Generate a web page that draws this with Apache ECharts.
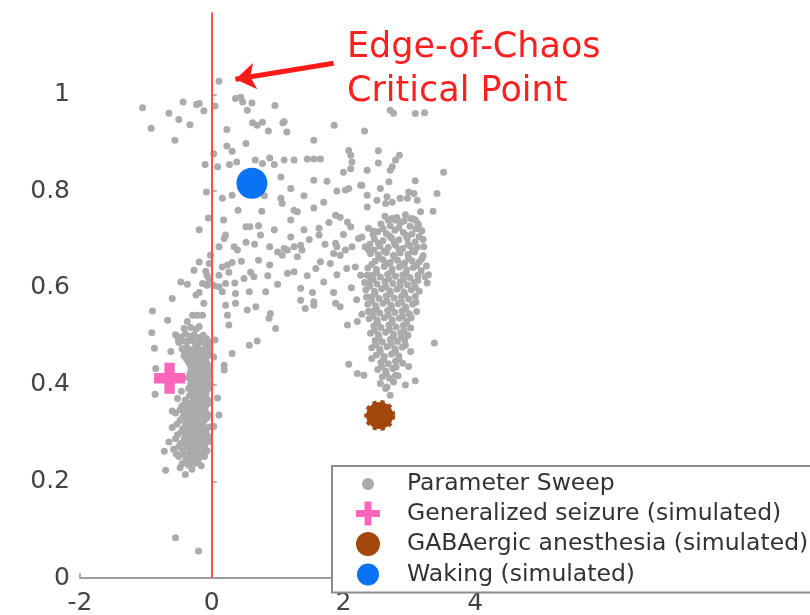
<!DOCTYPE html>
<html>
<head>
<meta charset="utf-8">
<script src="https://cdn.jsdelivr.net/npm/echarts@6/dist/echarts.min.js"></script>
<style>
  html, body { margin: 0; padding: 0; background: #ffffff; }
  #chart { width: 810px; height: 615px; }
</style>
</head>
<body>
<div id="chart"></div>
<script>
// Axis ticks
const xTicks = [-2, 0, 2, 4];
const yTicks = [0, 0.2, 0.4, 0.6, 0.8, 1];

// Parameter sweep: sparse points in the upper region (y > 0.8)
const sweepUpper = [
  [0.11,1.027],[-1.05,0.972],[-0.435,0.984],[-0.23,0.979],[-0.19,0.981],[-0.12,0.966],[-0.65,0.961],
  [-0.50,0.948],[-0.33,0.937],[-0.92,0.930],[-0.56,0.905],[0.05,0.976],[0.36,0.991],[0.44,0.994],
  [0.47,0.984],[0.61,0.982],[0.54,0.967],[0.96,0.977],[0.62,0.941],[0.69,0.936],[0.77,0.942],
  [0.86,0.924],[1.08,0.941],[0.23,0.927],[0.52,0.898],[0.23,0.893],[0.31,0.882],[0.03,0.877],
  [-0.10,0.855],[0.09,0.850],[0.27,0.855],[0.38,0.860],[0.66,0.864],[0.77,0.857],[0.88,0.868],
  [1.05,0.829],[2.71,0.967],[2.76,0.961],[3.09,0.960],[3.23,0.962],[1.10,0.943],[1.14,0.922],
  [1.86,0.936],[2.32,0.924],[1.55,0.905],[2.08,0.884],[2.11,0.874],[2.13,0.860],[2.11,0.846],
  [2.00,0.839],[2.53,0.883],[2.85,0.874],[2.79,0.864],[2.74,0.850],[2.71,0.843],[2.53,0.858],
  [1.10,0.864],[1.25,0.864],[1.45,0.866],[1.55,0.866],[1.65,0.866],[2.36,0.843],[3.52,0.839],
  [1.55,0.822],[2.69,0.819],[2.26,0.812],[3.09,0.821],[0.95,0.855],[1.75,0.820]
];

// Parameter sweep: bridge between the two clusters (0.57 < y < 0.81)
const sweepMiddle = [
  [-0.08,0.798],[0.16,0.785],[0.31,0.791],[0.76,0.758],[1.05,0.785],[1.07,0.774],[-0.05,0.744],
  [0.18,0.740],[-0.19,0.720],[0.52,0.726],[0.58,0.726],[0.71,0.728],[0.21,0.709],[0.19,0.702],
  [0.74,0.709],[0.52,0.694],[0.11,0.685],[0.34,0.685],[0.39,0.678],[0.88,0.685],[1.00,0.674],
  [1.07,0.667],[-0.02,0.667],[-0.19,0.653],[-0.04,0.650],[0.16,0.643],[0.24,0.647],[0.31,0.652],
  [0.71,0.657],[0.88,0.647],[-0.27,0.636],[-0.09,0.634],[-0.07,0.626],[-0.04,0.616],[0.11,0.626],
  [0.26,0.632],[0.59,0.632],[0.64,0.623],[0.49,0.619],[-0.47,0.612],[-0.37,0.607],[-0.14,0.609],
  [-0.07,0.605],[0.03,0.605],[0.11,0.602],[0.21,0.609],[0.16,0.592],[1.00,0.607],[-0.60,0.578],
  [-0.24,0.585],[-0.19,0.590],[0.36,0.588],[0.57,0.592],[0.82,0.592],
  [1.20,0.805],[2.03,0.802],[2.08,0.805],[2.28,0.812],[2.56,0.805],[2.36,0.791],[2.51,0.781],
  [2.66,0.788],[2.64,0.774],[2.74,0.777],[2.86,0.785],[2.99,0.798],[3.07,0.795],[3.12,0.781],
  [2.97,0.785],[3.42,0.795],[1.70,0.777],[1.25,0.760],[1.30,0.757],[1.55,0.765],[2.36,0.767],
  [1.88,0.750],[1.95,0.746],[2.06,0.736],[2.11,0.726],[2.74,0.743],[2.79,0.740],[2.86,0.736],
  [3.02,0.743],[3.09,0.740],[3.17,0.757],[3.14,0.729],[3.36,0.758],[1.63,0.723],[1.63,0.709],
  [2.38,0.723],[2.46,0.717],[1.20,0.705],[2.23,0.702],[2.28,0.705],[1.10,0.681],[1.15,0.678],
  [1.25,0.685],[1.35,0.688],[1.37,0.678],[1.88,0.692],[1.90,0.685],[1.85,0.671],[1.95,0.667],
  [2.03,0.678],[2.13,0.685],[2.33,0.685],[2.38,0.678],[1.30,0.664],[1.65,0.654],[2.18,0.643],
  [1.15,0.630],[1.25,0.633],[1.90,0.627],[2.26,0.626],[1.70,0.612],[2.41,0.616],[1.35,0.599],
  [1.53,0.590],[3.29,0.627],[1.35,0.574],[1.55,0.571],
  [1.40,0.720],[1.48,0.700],[1.78,0.735],[1.72,0.690],[2.00,0.710],[1.58,0.640],[1.80,0.650],
  [2.05,0.640],[1.45,0.625],[2.12,0.600],[1.85,0.590],[2.20,0.575],[0.95,0.720],[0.85,0.625],
  [0.45,0.655],[0.35,0.610],[0.65,0.690],[1.20,0.740],[1.40,0.790],[1.90,0.800],[0.40,0.760],
  [0.80,0.790]
];

// Parameter sweep: sparse points in the lower region (y < 0.57)
const sweepLower = [
  [1.42,0.557],[1.55,0.564],[1.88,0.568],[1.95,0.561],[2.06,0.523],[2.21,0.530],[3.38,0.486],
  [2.08,0.442],[2.21,0.423],[2.31,0.419],[2.43,0.454],[2.56,0.402],[2.64,0.392],[2.71,0.378],
  [2.79,0.419],[2.94,0.399],[3.09,0.408],[2.99,0.437],[3.02,0.468],[2.28,0.545],
  [-0.90,0.552],[-0.67,0.533],[-0.91,0.507],[-0.87,0.475],[-0.85,0.433],[-0.86,0.380],
  [-0.29,0.543],[-0.22,0.543],[-0.14,0.543],[-0.37,0.530],[-0.42,0.516],[-0.32,0.518],
  [-0.24,0.514],[-0.19,0.520],[-0.12,0.568],[0.21,0.564],[0.36,0.568],[0.54,0.554],[0.67,0.561],
  [0.24,0.543],[0.26,0.523],[0.89,0.547],[0.87,0.537],[0.97,0.516],[0.05,0.492],[0.31,0.464],
  [0.57,0.481],[0.69,0.490],[0.19,0.440],[0.19,0.430],[0.03,0.457],[0.09,0.372],[0.11,0.337],
  [0.03,0.313],[-0.70,0.223],[-0.40,0.214],[-0.55,0.083],[-0.20,0.056]
];

// Parameter sweep: dense cluster on the left (near the critical line)
const sweepLeftCluster = [
  [-0.55,0.503],[-0.47,0.498],[-0.40,0.505],[-0.33,0.499],[-0.27,0.503],[-0.20,0.497],[-0.13,0.502],[-0.08,0.495],
  [-0.50,0.487],[-0.36,0.490],[-0.25,0.485],[-0.17,0.489],[-0.10,0.484],[-0.04,0.488],
  [-0.45,0.474],[-0.38,0.477],[-0.30,0.472],[-0.22,0.476],[-0.15,0.471],[-0.09,0.475],
  [-0.42,0.459],[-0.33,0.462],[-0.26,0.457],[-0.19,0.461],[-0.12,0.456],[-0.06,0.460],
  [-0.35,0.446],[-0.28,0.443],[-0.21,0.447],[-0.14,0.442],[-0.08,0.445],
  [-0.31,0.431],[-0.24,0.428],[-0.17,0.432],[-0.11,0.427],[-0.05,0.430],
  [-0.36,0.414],[-0.27,0.417],[-0.20,0.412],[-0.13,0.416],[-0.07,0.411],
  [-0.32,0.401],[-0.25,0.397],[-0.18,0.402],[-0.10,0.398],[-0.04,0.401],
  [-0.46,0.386],[-0.30,0.383],[-0.22,0.387],[-0.15,0.382],[-0.08,0.386],
  [-0.52,0.371],[-0.40,0.368],[-0.28,0.372],[-0.20,0.367],[-0.12,0.371],[-0.06,0.368],
  [-0.45,0.356],[-0.35,0.353],[-0.26,0.357],[-0.17,0.352],[-0.09,0.356],
  [-0.55,0.341],[-0.42,0.338],[-0.32,0.342],[-0.23,0.337],[-0.14,0.341],[-0.06,0.338],
  [-0.48,0.326],[-0.38,0.323],[-0.29,0.327],[-0.20,0.322],[-0.11,0.326],
  [-0.60,0.311],[-0.44,0.308],[-0.35,0.312],[-0.26,0.307],[-0.17,0.311],[-0.09,0.308],[-0.03,0.312],
  [-0.52,0.296],[-0.40,0.293],[-0.31,0.297],[-0.22,0.292],[-0.13,0.296],[-0.06,0.293],
  [-0.65,0.281],[-0.47,0.278],[-0.37,0.282],[-0.28,0.277],[-0.19,0.281],[-0.10,0.278],[-0.04,0.282],
  [-0.58,0.266],[-0.44,0.263],[-0.33,0.267],[-0.24,0.262],[-0.15,0.266],[-0.07,0.263],
  [-0.50,0.251],[-0.39,0.248],[-0.29,0.252],[-0.20,0.247],[-0.11,0.251],
  [-0.45,0.236],[-0.35,0.233],[-0.25,0.237],[-0.16,0.232],
  [-0.72,0.262],[-0.60,0.345],[-0.62,0.468],
  [-0.51,0.495],[-0.43,0.490],[-0.30,0.491],[-0.21,0.482],[-0.07,0.479],[-0.41,0.467],[-0.34,0.469],
  [-0.26,0.466],[-0.18,0.468],[-0.12,0.465],[-0.03,0.470],[-0.38,0.452],[-0.30,0.451],[-0.23,0.454],
  [-0.16,0.451],[-0.09,0.453],[-0.32,0.437],[-0.26,0.436],[-0.19,0.439],[-0.13,0.436],[-0.06,0.439],
  [-0.33,0.423],[-0.23,0.421],[-0.16,0.424],[-0.09,0.420],[-0.03,0.417],[-0.30,0.408],[-0.22,0.406],
  [-0.15,0.409],[-0.08,0.405],[-0.35,0.392],[-0.27,0.391],[-0.19,0.394],[-0.12,0.392],[-0.04,0.393],
  [-0.34,0.377],[-0.25,0.378],[-0.16,0.377],[-0.09,0.379],[-0.40,0.362],[-0.31,0.361],[-0.22,0.362],
  [-0.13,0.362],[-0.05,0.361],[-0.48,0.348],[-0.38,0.347],[-0.28,0.347],[-0.19,0.347],[-0.10,0.346],
  [-0.44,0.332],[-0.34,0.332],[-0.25,0.332],[-0.16,0.331],[-0.07,0.332],[-0.53,0.318],[-0.40,0.316],
  [-0.30,0.317],[-0.21,0.316],[-0.13,0.317],[-0.46,0.302],[-0.36,0.302],[-0.26,0.302],[-0.17,0.302],
  [-0.09,0.301],[-0.55,0.288],[-0.42,0.287],[-0.32,0.287],[-0.23,0.287],[-0.14,0.287],[-0.07,0.287],
  [-0.50,0.272],[-0.39,0.272],[-0.29,0.272],[-0.19,0.272],[-0.11,0.272],[-0.54,0.257],[-0.43,0.257],
  [-0.34,0.257],[-0.24,0.257],[-0.15,0.256],[-0.40,0.241],[-0.30,0.242],[-0.21,0.241],[-0.48,0.228],
  [-0.30,0.225]
];

// Parameter sweep: dense cluster on the right
const sweepRightCluster = [
  [2.63,0.748],[2.81,0.745],[2.94,0.751],[3.06,0.742],
  [2.57,0.732],[2.71,0.728],[2.87,0.735],[3.01,0.727],[3.13,0.733],
  [2.52,0.716],[2.65,0.712],[2.78,0.719],[2.91,0.714],[3.04,0.711],[3.19,0.718],
  [2.47,0.701],[2.60,0.697],[2.73,0.703],[2.84,0.699],[2.97,0.702],[3.09,0.695],[3.21,0.700],
  [2.55,0.686],[2.68,0.683],[2.79,0.688],[2.90,0.681],[3.01,0.687],[3.12,0.684],
  [2.41,0.671],[2.53,0.668],[2.65,0.673],[2.76,0.667],[2.86,0.672],[2.98,0.669],[3.08,0.674],[3.21,0.666],
  [2.48,0.655],[2.60,0.658],[2.71,0.652],[2.82,0.657],[2.93,0.651],[3.04,0.656],[3.15,0.653],
  [2.37,0.641],[2.50,0.638],[2.62,0.644],[2.74,0.639],[2.85,0.643],[2.96,0.637],[3.06,0.642],
  [2.44,0.626],[2.56,0.622],[2.67,0.628],[2.79,0.624],[2.90,0.627],[3.01,0.621],[3.13,0.626],[3.24,0.623],
  [2.39,0.611],[2.51,0.608],[2.63,0.613],[2.75,0.609],[2.86,0.612],[2.97,0.606],[3.07,0.611],
  [2.34,0.596],[2.47,0.593],[2.58,0.598],[2.70,0.594],[2.81,0.597],[2.92,0.591],[3.03,0.596],[3.15,0.593],
  [2.42,0.581],[2.54,0.578],[2.65,0.583],[2.77,0.579],[2.88,0.582],[2.99,0.577],[3.09,0.582],
  [2.37,0.566],[2.49,0.563],[2.60,0.568],[2.72,0.564],[2.83,0.567],[2.94,0.561],[3.05,0.566],
  [2.44,0.551],[2.55,0.548],[2.67,0.553],[2.78,0.549],[2.89,0.552],[3.00,0.546],[3.11,0.551],
  [2.39,0.536],[2.51,0.533],[2.62,0.538],[2.74,0.534],[2.85,0.537],[2.96,0.531],
  [2.46,0.521],[2.57,0.518],[2.69,0.523],[2.80,0.519],[2.91,0.522],[3.02,0.517],
  [2.41,0.506],[2.53,0.503],[2.64,0.508],[2.76,0.504],[2.87,0.507],[2.98,0.502],
  [2.48,0.491],[2.59,0.488],[2.71,0.493],[2.82,0.489],[2.93,0.492],
  [2.43,0.476],[2.55,0.473],[2.66,0.478],[2.78,0.474],[2.89,0.477],
  [2.50,0.461],[2.62,0.458],[2.73,0.463],[2.84,0.459],
  [2.57,0.446],[2.68,0.443],[2.79,0.448],[2.90,0.444],
  [2.52,0.431],[2.64,0.428],[2.75,0.433],
  [2.59,0.416],[2.70,0.413],[2.83,0.418],
  [2.68,0.740],[2.92,0.738],[3.10,0.722],[2.60,0.722],[2.84,0.724],[2.70,0.707],[2.95,0.708],
  [3.15,0.706],[2.53,0.692],[2.77,0.694],[2.98,0.690],[2.46,0.678],[2.62,0.676],[2.84,0.679],
  [3.05,0.677],[2.54,0.662],[2.77,0.663],[2.99,0.661],[3.19,0.660],[2.43,0.648],[2.67,0.650],
  [2.90,0.648],[3.11,0.646],[2.50,0.631],[2.73,0.633],[2.95,0.630],[3.18,0.635],[2.45,0.617],
  [2.69,0.618],[2.91,0.616],[3.13,0.615],[2.40,0.603],[2.64,0.602],[2.86,0.603],[3.09,0.601],
  [2.48,0.587],[2.71,0.588],[2.93,0.586],[2.43,0.572],[2.66,0.573],[2.88,0.571],[3.10,0.570],
  [2.50,0.557],[2.73,0.558],[2.95,0.556],[2.45,0.542],[2.68,0.543],[2.90,0.541],[3.03,0.538],
  [2.52,0.527],[2.74,0.528],[2.96,0.526],[2.47,0.512],[2.70,0.513],[2.92,0.511],[2.54,0.497],
  [2.76,0.498],[2.88,0.499],[2.49,0.482],[2.72,0.483],[2.94,0.481],[2.56,0.467],[2.79,0.468],
  [2.61,0.452],[2.84,0.452],[2.58,0.437],[2.80,0.436],[2.65,0.422],[2.76,0.405],[2.66,0.395],
  [2.36,0.626],[2.32,0.611],[2.38,0.551],[2.35,0.581],[2.40,0.690],[2.45,0.710],[3.26,0.645],
  [3.22,0.685],[3.27,0.610]
];

// Simulated brain states
const seizurePoint = [[-0.64, 0.413]];
const anesthesiaPoint = [[2.55, 0.336]];
const wakingPoint = [[0.61, 0.816]];

// Edge-of-chaos critical line and its annotation arrow
const criticalX = 0;
const arrowStart = [1.85, 1.064];
const arrowEnd = [0.36, 1.031];

const sweepPoints = [].concat(sweepUpper, sweepMiddle, sweepLower, sweepLeftCluster, sweepRightCluster);

const FONT = 'DejaVu Sans';
const AXIS_GREY = '#9d9d9d';
const plusPath = 'path://M10,0H20V10H30V20H20V30H10V20H0V10H10Z';

const chart = echarts.init(document.getElementById('chart'), null, { renderer: 'canvas' });

chart.setOption({
  animation: false,
  backgroundColor: '#ffffff',
  grid: { left: 80, right: 236, top: 13, bottom: 37, containLabel: false, outerBoundsMode: 'none' },
  xAxis: {
    type: 'value', min: -2, max: 5.5,
    splitLine: { show: false },
    axisLine: { lineStyle: { color: AXIS_GREY, width: 2 } },
    axisTick: { customValues: xTicks, inside: true, length: 5, lineStyle: { color: AXIS_GREY, width: 1.5 } },
    axisLabel: { customValues: xTicks, fontFamily: FONT, fontSize: 25, color: '#444444', margin: 13 }
  },
  yAxis: {
    type: 'value', min: 0, max: 1.168,
    splitLine: { show: false },
    axisLine: { lineStyle: { color: AXIS_GREY, width: 2 } },
    axisTick: { customValues: yTicks, inside: true, length: 5, lineStyle: { color: AXIS_GREY, width: 1.5 } },
    axisLabel: { customValues: yTicks, fontFamily: FONT, fontSize: 25, color: '#444444', margin: 10 }
  },
  legend: {
    orient: 'vertical',
    left: 332, top: 466,
    padding: [6, 14, 6, 23],
    itemWidth: 24, itemHeight: 24, itemGap: 5.5,
    backgroundColor: '#ffffff',
    borderColor: '#8c8c8c', borderWidth: 2,
    selectedMode: false,
    textStyle: { fontFamily: FONT, fontSize: 23.5, color: '#333333', lineHeight: 24, padding: [0, 0, 0, 22] },
    data: [
      { name: 'Parameter Sweep', icon: 'path://M0,0M24,24M6,12a6,6 0 1,0 12,0a6,6 0 1,0 -12,0Z' },
      { name: 'Generalized seizure (simulated)', icon: 'path://M0,0M24,24M8.5,0H15.5V8.5H24V15.5H15.5V24H8.5V15.5H0V8.5H8.5Z' },
      { name: 'GABAergic anesthesia (simulated)', icon: 'path://M0,0M24,24M1,12a11,11 0 1,0 22,0a11,11 0 1,0 -22,0Z' },
      { name: 'Waking (simulated)', icon: 'path://M0,0M24,24M1,12a11,11 0 1,0 22,0a11,11 0 1,0 -22,0Z' }
    ]
  },
  graphic: [{
    type: 'text',
    left: 347, top: 26,
    z: 100,
    style: {
      text: 'Edge-of-Chaos\nCritical Point',
      fontFamily: FONT, fontSize: 35, lineHeight: 44,
      fill: '#ff1f1f'
    }
  }],
  series: [
    {
      name: 'Parameter Sweep',
      type: 'scatter',
      data: sweepPoints,
      symbol: 'circle',
      symbolSize: 7,
      itemStyle: { color: '#ababab', opacity: 1 },
      z: 2,
      markLine: {
        silent: true,
        symbol: ['none', 'none'],
        label: { show: false },
        z: 5,
        data: [
          { xAxis: criticalX, lineStyle: { color: '#ff4f4f', width: 2, type: 'solid' } },
          [
            { coord: arrowStart, symbol: 'none', lineStyle: { color: '#ff1a1a', width: 5, type: 'solid' } },
            { coord: arrowEnd, symbol: 'arrow', symbolSize: 20 }
          ]
        ]
      }
    },
    {
      name: 'Generalized seizure (simulated)',
      type: 'scatter',
      data: seizurePoint,
      symbol: plusPath,
      symbolSize: 31,
      itemStyle: { color: '#ff66bb', opacity: 1 },
      z: 4
    },
    {
      name: 'GABAergic anesthesia (simulated)',
      type: 'scatter',
      data: anesthesiaPoint,
      symbol: 'circle',
      symbolSize: 27,
      itemStyle: { color: '#a3480c', opacity: 1, borderColor: '#a3480c', borderWidth: 4, borderType: [4, 4] },
      z: 4
    },
    {
      name: 'Waking (simulated)',
      type: 'scatter',
      data: wakingPoint,
      symbol: 'circle',
      symbolSize: 31,
      itemStyle: { color: '#0a72f5', opacity: 1 },
      z: 4
    }
  ]
});
</script>
</body>
</html>
